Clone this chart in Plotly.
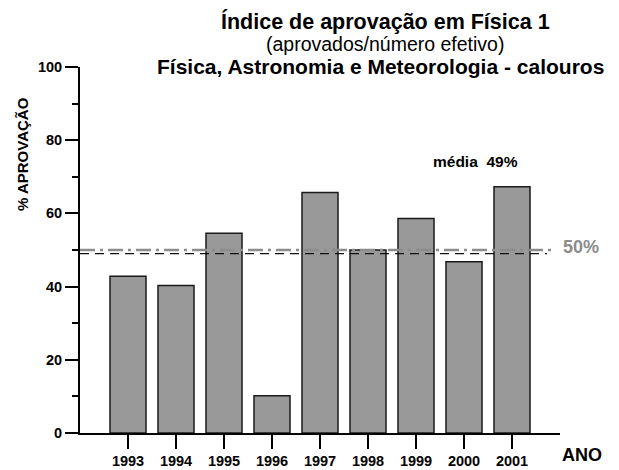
import plotly.graph_objects as go

anos = ["1993", "1994", "1995", "1996", "1997", "1998", "1999", "2000", "2001"]
aprovacao = [42.8, 40.3, 54.6, 10.2, 65.7, 50.0, 58.6, 46.8, 67.3]
media = 49
referencia = 50
y_ticks = [0, 20, 40, 60, 80, 100]

FONT = "Arial, Liberation Sans, sans-serif"

# the page body adds an 8px offset; the figure is laid out in window pixels minus that
OFF = 8
W, H = 619 - OFF, 470 - OFF
l, r, t, b = 80 - OFF, 59, 67 - OFF, 37
pw, ph = W - l - r, H - t - b


def px(x, y):
    x, y = x - OFF, y - OFF
    return dict(xref="paper", yref="paper", x=(x - l) / pw, y=1 - (y - t) / ph,
                xanchor="center", yanchor="middle", showarrow=False)


fig = go.Figure()
fig.add_trace(go.Bar(
    x=anos, y=aprovacao,
    marker=dict(color="#999999", line=dict(color="#1a1a1a", width=1.5)),
    width=0.75,
))

# reference lines
fig.add_shape(type="line", xref="paper", yref="y", x0=0, x1=0.985, y0=referencia, y1=referencia,
              line=dict(color="#8c8c8c", width=2.5, dash="15px,5px,3px,5px"))
fig.add_shape(type="line", xref="paper", yref="y", x0=0, x1=0.973, y0=media, y1=media,
              line=dict(color="#111111", width=1.3, dash="9px,6px"))

fig.update_layout(
    width=W, height=H,
    margin=dict(l=l, r=r, t=t, b=b),
    plot_bgcolor="white", paper_bgcolor="white",
    showlegend=False,
    font=dict(family=FONT, color="black"),
    xaxis=dict(
        type="category", range=[-1, 9], automargin=False,
        showline=True, linecolor="black", linewidth=2,
        ticks="outside", ticklen=14, tickwidth=2, tickcolor="black",
        tickfont=dict(size=14.5, weight="bold", family=FONT),
        showgrid=False, zeroline=False,
    ),
    yaxis=dict(
        range=[0, 100], tickvals=y_ticks, automargin=False,
        showline=True, linecolor="black", linewidth=2,
        ticks="outside", ticklen=13, tickwidth=2, tickcolor="black",
        tickfont=dict(size=14.5, weight="bold", family=FONT),
        minor=dict(ticks="outside", ticklen=6, tickwidth=2, tickcolor="black", dtick=10, showgrid=False),
        showgrid=False, zeroline=False,
    ),
    annotations=[
        dict(text="<b>Índice de aprovação em Física 1</b>", font=dict(size=21.5), **px(385, 21)),
        dict(text="(aprovados/número efetivo)", font=dict(size=19.5), **px(385, 44)),
        dict(text="<b>Física, Astronomia e Meteorologia - calouros</b>", font=dict(size=21), **px(380, 66)),
        dict(text="<b>% APROVAÇÃO</b>", textangle=-90, font=dict(size=15), **px(23, 154)),
        dict(text="<b>média  49%</b>", font=dict(size=15.5), **px(475, 161)),
        dict(text="<b>50%</b>", font=dict(size=18, color="#8c8c8c"), **px(581, 247)),
        dict(text="<b>ANO</b>", font=dict(size=18), **px(582, 455)),
    ],
)

fig.write_html("out.html")
